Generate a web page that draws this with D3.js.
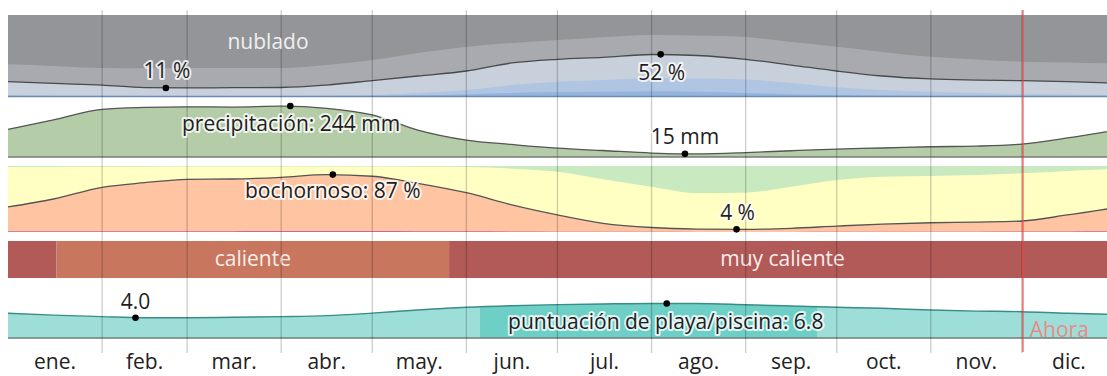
<!DOCTYPE html>
<html>
<head>
<meta charset="utf-8">
<script src="https://cdn.jsdelivr.net/npm/d3@7"></script>
<style>
  html, body { margin: 0; padding: 0; background: #fff; }
  svg { display: block; font-family: "Open Sans", "Noto Sans", sans-serif; }
  .halo { paint-order: stroke; stroke: rgba(255,255,255,0.8); stroke-width: 4px; stroke-linejoin: round; fill: #1e1e1e; }
</style>
</head>
<body>
<svg id="chart" width="1107" height="376"></svg>
<script>
// Sample days (day of year) shared by the seasonal series
const days = [0, 15, 31, 45, 59, 74, 90, 105, 120, 135, 151, 166, 181, 196, 212, 227, 243, 258, 273, 288, 304, 319, 334, 349, 365];

// Cloud cover, cumulative percentages from the bottom (clear → mostly clear → partly cloudy → mostly cloudy)
const cloudClear       = [0.5, 0.5, 0.4, 0.4, 0.4, 0.4, 0.5, 0.6, 1.0, 2.0, 3.5, 5.0, 6.0, 6.5, 7.0, 6.5, 5.0, 3.5, 2.5, 1.8, 1.3, 1.0, 0.8, 0.6, 0.5];
const cloudMostlyClear = [2.4, 1.8, 1.8, 1.2, 1.2, 1.2, 1.2, 1.8, 2.4, 4.9, 8.5, 14.6, 18.7, 20.7, 22.8, 22.6, 21.3, 17.0, 11.8, 8.5, 6.5, 4.9, 3.7, 3.0, 2.4];
const cloudPartly      = [18.7, 16.5, 14.6, 11.4, 11.1, 11.4, 11.6, 14.6, 20.0, 25.6, 31.7, 41.5, 46.0, 48.4, 51.8, 50.6, 46.0, 39.0, 31.7, 25.6, 22.0, 20.7, 19.9, 18.7, 17.0];
const cloudMostly      = [39.9, 37.8, 35.4, 35.0, 35.4, 35.4, 35.4, 39.0, 45.0, 53.7, 61.3, 65.9, 69.5, 73.0, 75.6, 75.0, 73.2, 67.0, 61.3, 55.0, 49.0, 45.7, 43.0, 42.0, 40.8];

// Monthly rainfall (31-day sliding total, mm)
const rainfall = [132, 178, 228, 237, 240, 239, 243, 233, 201, 129, 81, 60, 42, 31, 19, 15, 21, 30, 38, 43, 49, 52, 62, 91, 129];

// Humidity comfort, cumulative percentages (oppressive → muggy → humid → comfortable)
const humidOppressive = [1.0, 1.0, 1.0, 1.2, 1.2, 1.3, 1.5, 1.5, 1.5, 1.2, 1.0, 0.8, 0.5, 0.3, 0.2, 0.1, 0.1, 0.1, 0.2, 0.3, 0.4, 0.5, 0.6, 0.8, 1.0];
const humidMuggy      = [38, 50, 67.7, 74.7, 79.8, 80.3, 82.9, 86.8, 84.5, 73.8, 59.5, 41, 25.8, 13.2, 6.8, 4.5, 4.0, 5.6, 9, 12, 14, 15, 16.7, 25.8, 37];
const humidHumid      = [98.5, 98.5, 98.8, 99, 99.2, 99.3, 99.3, 99.3, 99.2, 99, 98.5, 96, 91.4, 80, 68.6, 59, 59.5, 68.6, 78.8, 83.8, 84.8, 86.4, 88.9, 92.4, 95.5];

// Beach / pool score (0–10)
const beachScore = [4.86, 4.5, 4.2, 4.0, 4.0, 4.07, 4.2, 4.4, 4.9, 5.5, 6.04, 6.36, 6.56, 6.7, 6.8, 6.78, 6.55, 6.3, 6.04, 5.85, 5.5, 5.3, 5.18, 4.86, 4.65];
const beachBest = [155.5, 266.5];

// Temperature category bands
const tempStart = [0, 16, 145.3];
const tempEnd   = [16, 145.3, 365];
const tempCat   = ["muy caliente", "caliente", "muy caliente"];
const tempLabel = ["", "caliente", "muy caliente"];

// Highlighted extremes
const cloudMarks = [{ day: 52, value: 11 }, { day: 215, value: 52 }];
const rainMarks  = [{ day: 93, value: 244 }, { day: 223, value: 15 }];
const humidMarks = [{ day: 107, value: 87 }, { day: 240, value: 4 }];
const beachMarks = [{ day: 42, value: 4.0 }, { day: 217, value: 6.8 }];

// Month axis
const monthStarts = [0, 31, 59, 90, 120, 151, 181, 212, 243, 273, 304, 334, 365];
const monthLabels = ["ene.", "feb.", "mar.", "abr.", "may.", "jun.", "jul.", "ago.", "sep.", "oct.", "nov.", "dic."];
const today = 334.3;

const FS = 21;
const svg = d3.select("#chart");
const x = d3.scaleLinear().domain([0, 365]).range([8, 1116]);
const curve = d3.curveMonotoneX;

const cloudY = d3.scaleLinear().domain([0, 100]).range([97, 15]);
const rainY  = d3.scaleLinear().domain([0, 244]).range([157, 106]);
const humidY = d3.scaleLinear().domain([0, 100]).range([232, 166]);
const beachY = d3.scaleLinear().domain([0, 10]).range([338, 287.2]);
const tempTop = 241, tempBottom = 278;

const colorScaleTemp = d3.scaleOrdinal().domain(["caliente", "muy caliente"]).range(["#c9765f", "#b15a58"]);

function areaUnder(yScale, vals) {
  return d3.area().curve(curve)
    .x((d, i) => x(days[i]))
    .y0(yScale(0))
    .y1((d, i) => yScale(vals[i]));
}
function lineOf(yScale, vals) {
  return d3.line().curve(curve)
    .x((d, i) => x(days[i]))
    .y((d, i) => yScale(vals[i]));
}

// ---- Cloud cover panel ----
const gCloud = svg.append("g");
gCloud.append("rect").attr("x", x(0)).attr("y", cloudY(100))
  .attr("width", x(365) - x(0)).attr("height", cloudY(0) - cloudY(100)).attr("fill", "#939598");
[[cloudMostly, "#a8aaaf"], [cloudPartly, "#c8d0dc"], [cloudMostlyClear, "#afc5e2"], [cloudClear, "#94b4de"]]
  .forEach(([vals, col]) => {
    gCloud.append("path").datum(vals).attr("d", areaUnder(cloudY, vals)).attr("fill", col);
  });
gCloud.append("line").attr("x1", x(0)).attr("x2", x(365)).attr("y1", cloudY(0) - 0.5).attr("y2", cloudY(0) - 0.5)
  .attr("stroke", "#6a8bb6").attr("stroke-width", 1.5);
gCloud.append("path").datum(cloudPartly).attr("d", lineOf(cloudY, cloudPartly))
  .attr("fill", "none").attr("stroke", "#4a4a4a").attr("stroke-width", 1.3);

// ---- Rainfall panel ----
const gRain = svg.append("g");
gRain.append("path").datum(rainfall).attr("d", areaUnder(rainY, rainfall)).attr("fill", "#b4cca7");
gRain.append("path").datum(rainfall).attr("d", lineOf(rainY, rainfall))
  .attr("fill", "none").attr("stroke", "#555").attr("stroke-width", 1.3);
gRain.append("line").attr("x1", x(0)).attr("x2", x(365)).attr("y1", rainY(0)).attr("y2", rainY(0))
  .attr("stroke", "#7a7a7a").attr("stroke-width", 1.5);

// ---- Humidity panel ----
const gHum = svg.append("g");
gHum.append("rect").attr("x", x(0)).attr("y", humidY(100))
  .attr("width", x(365) - x(0)).attr("height", humidY(0) - humidY(100)).attr("fill", "#c9eac0");
[[humidHumid, "#ffffc3"], [humidMuggy, "#ffc4a1"], [humidOppressive, "#c8689a"]]
  .forEach(([vals, col]) => {
    gHum.append("path").datum(vals).attr("d", areaUnder(humidY, vals)).attr("fill", col);
  });
gHum.append("path").datum(humidMuggy).attr("d", lineOf(humidY, humidMuggy))
  .attr("fill", "none").attr("stroke", "#555").attr("stroke-width", 1.3);

// ---- Temperature band ----
const gTemp = svg.append("g");
tempCat.forEach((c, i) => {
  gTemp.append("rect").attr("x", x(tempStart[i])).attr("y", tempTop)
    .attr("width", x(tempEnd[i]) - x(tempStart[i])).attr("height", tempBottom - tempTop)
    .attr("fill", colorScaleTemp(c));
  if (tempLabel[i]) {
    gTemp.append("text").attr("x", (x(tempStart[i]) + x(tempEnd[i])) / 2).attr("y", 266)
      .attr("text-anchor", "middle").attr("font-size", FS).attr("fill", "#f8eeea").text(tempLabel[i]);
  }
});

// ---- Beach score panel ----
const gBeach = svg.append("g");
gBeach.append("path").datum(beachScore).attr("d", areaUnder(beachY, beachScore)).attr("fill", "#9ddfd8");
gBeach.append("clipPath").attr("id", "bestClip").append("rect")
  .attr("x", x(beachBest[0])).attr("y", 280).attr("width", x(beachBest[1]) - x(beachBest[0])).attr("height", 60);
gBeach.append("path").datum(beachScore).attr("d", areaUnder(beachY, beachScore))
  .attr("fill", "#6dcfc6").attr("clip-path", "url(#bestClip)");
gBeach.append("path").datum(beachScore).attr("d", lineOf(beachY, beachScore))
  .attr("fill", "none").attr("stroke", "#3a8c86").attr("stroke-width", 1.4);
gBeach.append("line").attr("x1", x(0)).attr("x2", x(365)).attr("y1", beachY(0)).attr("y2", beachY(0))
  .attr("stroke", "#6b7f7d").attr("stroke-width", 1.3);

// ---- Month grid lines ----
svg.append("g").selectAll("line").data(monthStarts.slice(1, 12)).join("line")
  .attr("x1", d => x(d)).attr("x2", d => x(d)).attr("y1", 10).attr("y2", 353)
  .attr("stroke", "rgba(0,0,0,0.2)").attr("stroke-width", 1.3);

// ---- Today marker ----
svg.append("line").attr("x1", x(today)).attr("x2", x(today)).attr("y1", 10).attr("y2", 352)
  .attr("stroke", "rgba(232,70,70,0.65)").attr("stroke-width", 2);
svg.append("text").attr("x", x(today) + 7).attr("y", 337).attr("font-size", FS)
  .attr("fill", "#e88a8a").text("Ahora");

// ---- Month labels ----
svg.append("g").selectAll("text").data(monthLabels).join("text")
  .attr("x", (d, i) => (x(monthStarts[i]) + x(monthStarts[i + 1])) / 2)
  .attr("y", 369).attr("text-anchor", "middle").attr("font-size", FS).attr("fill", "#222")
  .text(d => d);

// ---- Marks and annotations ----
function dot(px, py) {
  svg.append("circle").attr("cx", px).attr("cy", py).attr("r", 3.3).attr("fill", "#000");
}
function label(px, py, txt, anchor) {
  svg.append("text").attr("class", "halo").attr("x", px).attr("y", py)
    .attr("text-anchor", anchor || "middle").attr("font-size", FS).text(txt);
}

svg.append("text").attr("x", 268).attr("y", 49).attr("text-anchor", "middle").attr("font-size", FS)
  .attr("fill", "#f0f0f0").text("nublado");

cloudMarks.forEach((m, i) => {
  dot(x(m.day), cloudY(m.value));
  label(x(m.day) + 1, i === 0 ? 78 : 80, m.value + " %");
});

dot(x(rainMarks[0].day), rainY(rainMarks[0].value));
label(182, 131, "precipitación: " + rainMarks[0].value + " mm", "start");
dot(x(rainMarks[1].day), rainY(rainMarks[1].value));
label(x(rainMarks[1].day), 144, rainMarks[1].value + " mm");

dot(x(humidMarks[0].day), humidY(humidMarks[0].value));
label(x(humidMarks[0].day), 198, "bochornoso: " + humidMarks[0].value + " %");
dot(x(humidMarks[1].day), humidY(humidMarks[1].value));
label(x(humidMarks[1].day) + 1, 220, humidMarks[1].value + " %");

dot(x(beachMarks[0].day), beachY(beachMarks[0].value));
label(x(beachMarks[0].day), 309, beachMarks[0].value.toFixed(1));
dot(x(beachMarks[1].day), beachY(beachMarks[1].value));
label(x(beachMarks[1].day) - 1, 329, "puntuación de playa/piscina: " + beachMarks[1].value.toFixed(1));
</script>
</body>
</html>
